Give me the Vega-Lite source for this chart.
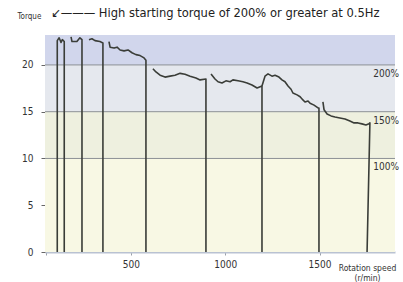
{
  "$schema": "https://vega.github.io/schema/vega-lite/v6.json",
  "width": 350,
  "height": 217,
  "autosize": {"type": "none"},
  "padding": {"left": 45, "top": 35, "right": 8, "bottom": 30},
  "background": "white",
  "config": {"view": {"stroke": null}, "font": "DejaVu Sans Condensed"},
  "title": {
    "text": "↙———  High starting torque of 200% or greater at 0.5Hz",
    "anchor": "start",
    "frame": "group",
    "dx": 6,
    "offset": 0,
    "dy": 8,
    "fontSize": 12.8,
    "fontWeight": "normal",
    "font": "DejaVu Sans Condensed",
    "color": "#222"
  },
  "datasets": {
    "bands": [
      {"band": "a", "lo": 0, "hi": 10},
      {"band": "b", "lo": 10, "hi": 15},
      {"band": "c", "lo": 15, "hi": 20},
      {"band": "d", "lo": 20, "hi": 23.2}
    ],
    "levels": [
      {"t": 20, "label": "200%"},
      {"t": 15, "label": "150%"},
      {"t": 10, "label": "100%"}
    ],
    "curve": [
      {"seg": 1, "i": 1, "rpm": 110, "torque": 0},
      {"seg": 1, "i": 2, "rpm": 110, "torque": 22.6},
      {"seg": 1, "i": 3, "rpm": 120, "torque": 22.9},
      {"seg": 1, "i": 4, "rpm": 130, "torque": 22.4},
      {"seg": 1, "i": 5, "rpm": 137, "torque": 22.7},
      {"seg": 1, "i": 6, "rpm": 147, "torque": 22.5},
      {"seg": 1, "i": 7, "rpm": 147, "torque": 0},
      {"seg": 2, "i": 1, "rpm": 183, "torque": 23.0},
      {"seg": 2, "i": 2, "rpm": 188, "torque": 22.5},
      {"seg": 2, "i": 3, "rpm": 214, "torque": 22.5},
      {"seg": 2, "i": 4, "rpm": 230, "torque": 22.9},
      {"seg": 2, "i": 5, "rpm": 241, "torque": 22.7},
      {"seg": 2, "i": 6, "rpm": 241, "torque": 0},
      {"seg": 3, "i": 1, "rpm": 278, "torque": 22.7},
      {"seg": 3, "i": 2, "rpm": 294, "torque": 22.8},
      {"seg": 3, "i": 3, "rpm": 310, "torque": 22.6},
      {"seg": 3, "i": 4, "rpm": 336, "torque": 22.5},
      {"seg": 3, "i": 5, "rpm": 352, "torque": 22.35},
      {"seg": 3, "i": 6, "rpm": 352, "torque": 0},
      {"seg": 4, "i": 1, "rpm": 384, "torque": 22.5},
      {"seg": 4, "i": 2, "rpm": 390, "torque": 21.9},
      {"seg": 4, "i": 3, "rpm": 411, "torque": 21.8},
      {"seg": 4, "i": 4, "rpm": 427, "torque": 21.9},
      {"seg": 4, "i": 5, "rpm": 443, "torque": 21.6},
      {"seg": 4, "i": 6, "rpm": 464, "torque": 21.5},
      {"seg": 4, "i": 7, "rpm": 485, "torque": 21.6},
      {"seg": 4, "i": 8, "rpm": 506, "torque": 21.3},
      {"seg": 4, "i": 9, "rpm": 527, "torque": 21.1},
      {"seg": 4, "i": 10, "rpm": 549, "torque": 21.0},
      {"seg": 4, "i": 11, "rpm": 570, "torque": 20.75},
      {"seg": 4, "i": 12, "rpm": 580, "torque": 20.5},
      {"seg": 4, "i": 13, "rpm": 580, "torque": 0},
      {"seg": 5, "i": 1, "rpm": 617, "torque": 19.6},
      {"seg": 5, "i": 2, "rpm": 633, "torque": 19.25},
      {"seg": 5, "i": 3, "rpm": 655, "torque": 18.9},
      {"seg": 5, "i": 4, "rpm": 681, "torque": 18.7},
      {"seg": 5, "i": 5, "rpm": 708, "torque": 18.8},
      {"seg": 5, "i": 6, "rpm": 734, "torque": 18.9},
      {"seg": 5, "i": 7, "rpm": 761, "torque": 19.1},
      {"seg": 5, "i": 8, "rpm": 787, "torque": 19.0},
      {"seg": 5, "i": 9, "rpm": 814, "torque": 18.8},
      {"seg": 5, "i": 10, "rpm": 845, "torque": 18.6},
      {"seg": 5, "i": 11, "rpm": 867, "torque": 18.4},
      {"seg": 5, "i": 12, "rpm": 898, "torque": 18.5},
      {"seg": 5, "i": 13, "rpm": 898, "torque": 0},
      {"seg": 6, "i": 1, "rpm": 925, "torque": 19.04},
      {"seg": 6, "i": 2, "rpm": 946, "torque": 18.5},
      {"seg": 6, "i": 3, "rpm": 962, "torque": 18.2},
      {"seg": 6, "i": 4, "rpm": 983, "torque": 18.07},
      {"seg": 6, "i": 5, "rpm": 1004, "torque": 18.3},
      {"seg": 6, "i": 6, "rpm": 1026, "torque": 18.2},
      {"seg": 6, "i": 7, "rpm": 1041, "torque": 18.4},
      {"seg": 6, "i": 8, "rpm": 1068, "torque": 18.3},
      {"seg": 6, "i": 9, "rpm": 1094, "torque": 18.2},
      {"seg": 6, "i": 10, "rpm": 1116, "torque": 18.07},
      {"seg": 6, "i": 11, "rpm": 1142, "torque": 17.86},
      {"seg": 6, "i": 12, "rpm": 1169, "torque": 17.54},
      {"seg": 6, "i": 13, "rpm": 1195, "torque": 17.75},
      {"seg": 6, "i": 14, "rpm": 1195, "torque": 0},
      {"seg": 7, "i": 1, "rpm": 1195, "torque": 17.75},
      {"seg": 7, "i": 2, "rpm": 1211, "torque": 18.8},
      {"seg": 7, "i": 3, "rpm": 1227, "torque": 19.04},
      {"seg": 7, "i": 4, "rpm": 1248, "torque": 18.8},
      {"seg": 7, "i": 5, "rpm": 1264, "torque": 18.9},
      {"seg": 7, "i": 6, "rpm": 1285, "torque": 18.7},
      {"seg": 7, "i": 7, "rpm": 1301, "torque": 18.4},
      {"seg": 7, "i": 8, "rpm": 1317, "torque": 18.2},
      {"seg": 7, "i": 9, "rpm": 1333, "torque": 17.75},
      {"seg": 7, "i": 10, "rpm": 1349, "torque": 17.4},
      {"seg": 7, "i": 11, "rpm": 1359, "torque": 17.0},
      {"seg": 7, "i": 12, "rpm": 1381, "torque": 16.8},
      {"seg": 7, "i": 13, "rpm": 1397, "torque": 16.6},
      {"seg": 7, "i": 14, "rpm": 1412, "torque": 16.26},
      {"seg": 7, "i": 15, "rpm": 1423, "torque": 16.04},
      {"seg": 7, "i": 16, "rpm": 1439, "torque": 16.15},
      {"seg": 7, "i": 17, "rpm": 1450, "torque": 15.9},
      {"seg": 7, "i": 18, "rpm": 1471, "torque": 15.7},
      {"seg": 7, "i": 19, "rpm": 1492, "torque": 15.4},
      {"seg": 7, "i": 20, "rpm": 1497, "torque": 15.4},
      {"seg": 7, "i": 21, "rpm": 1497, "torque": 0},
      {"seg": 8, "i": 1, "rpm": 1518, "torque": 16.04},
      {"seg": 8, "i": 2, "rpm": 1524, "torque": 15.2},
      {"seg": 8, "i": 3, "rpm": 1540, "torque": 14.76},
      {"seg": 8, "i": 4, "rpm": 1561, "torque": 14.55},
      {"seg": 8, "i": 5, "rpm": 1582, "torque": 14.44},
      {"seg": 8, "i": 6, "rpm": 1608, "torque": 14.33},
      {"seg": 8, "i": 7, "rpm": 1635, "torque": 14.22},
      {"seg": 8, "i": 8, "rpm": 1661, "torque": 14.0},
      {"seg": 8, "i": 9, "rpm": 1683, "torque": 13.8},
      {"seg": 8, "i": 10, "rpm": 1704, "torque": 13.8},
      {"seg": 8, "i": 11, "rpm": 1725, "torque": 13.7},
      {"seg": 8, "i": 12, "rpm": 1746, "torque": 13.58},
      {"seg": 8, "i": 13, "rpm": 1762, "torque": 13.7},
      {"seg": 8, "i": 14, "rpm": 1767, "torque": 13.8},
      {"seg": 8, "i": 15, "rpm": 1752, "torque": 0}
    ]
  },
  "layer": [
    {
      "data": {"name": "bands"},
      "mark": {"type": "rect"},
      "encoding": {
        "y": {"field": "lo", "type": "quantitative", "scale": {"domain": [0, 23.2], "nice": false}},
        "y2": {"field": "hi"},
        "color": {
          "field": "band", "type": "nominal", "legend": null,
          "scale": {"domain": ["a", "b", "c", "d"], "range": ["#f8f8e4", "#eef0df", "#e5e8ee", "#d1d6ec"]}
        }
      }
    },
    {
      "data": {"name": "levels"},
      "mark": {"type": "rule", "color": "#8d9196", "strokeWidth": 1},
      "encoding": {
        "y": {"field": "t", "type": "quantitative"}
      }
    },
    {
      "data": {"name": "levels"},
      "mark": {"type": "text", "align": "right", "baseline": "top", "dy": 4, "dx": 4, "fontSize": 10, "color": "#333", "font": "DejaVu Sans Condensed"},
      "encoding": {
        "y": {"field": "t", "type": "quantitative"},
        "x": {"datum": 1900, "type": "quantitative"},
        "text": {"field": "label"}
      }
    },
    {
      "data": {"name": "curve"},
      "mark": {"type": "line", "color": "#3a3d38", "strokeWidth": 1.6, "strokeJoin": "round"},
      "encoding": {
        "x": {
          "field": "rpm", "type": "quantitative",
          "scale": {"domain": [45, 1900], "nice": false, "zero": false},
          "axis": {
            "values": [50, 500, 1000, 1500],
            "labelExpr": "datum.value == 50 ? '' : datum.label",
            "format": "d",
            "grid": false,
            "domainColor": "#b9c2d2",
            "domainWidth": 2,
            "tickColor": "#9aa0a8",
            "tickSize": 3,
            "labelFontSize": 10,
            "labelColor": "#333",
            "labelPadding": 4,
            "labelFont": "DejaVu Sans Condensed",
            "title": ["Rotation speed", "(r/min)"],
            "titleFontSize": 8.5,
            "titleFontWeight": "normal",
            "titleColor": "#333",
            "titleFont": "DejaVu Sans Condensed",
            "titleAlign": "center",
            "titleX": 322,
            "titleY": 11,
            "titleBaseline": "top",
            "titleLineHeight": 10
          }
        },
        "y": {
          "field": "torque", "type": "quantitative",
          "axis": {
            "values": [0, 5, 10, 15, 20],
            "grid": false,
            "domain": false,
            "tickColor": "#666",
            "tickSize": 4,
            "labelFontSize": 10,
            "labelColor": "#333",
            "labelPadding": 8,
            "labelFont": "DejaVu Sans Condensed",
            "title": "Torque",
            "titleAngle": 0,
            "titleFontSize": 8,
            "titleFontWeight": "normal",
            "titleColor": "#333",
            "titleFont": "DejaVu Sans Condensed",
            "titleX": -28,
            "titleY": -19,
            "titleAlign": "left",
            "titleBaseline": "middle"
          }
        },
        "detail": {"field": "seg", "type": "nominal"},
        "order": {"field": "i", "type": "quantitative"}
      }
    }
  ]
}
